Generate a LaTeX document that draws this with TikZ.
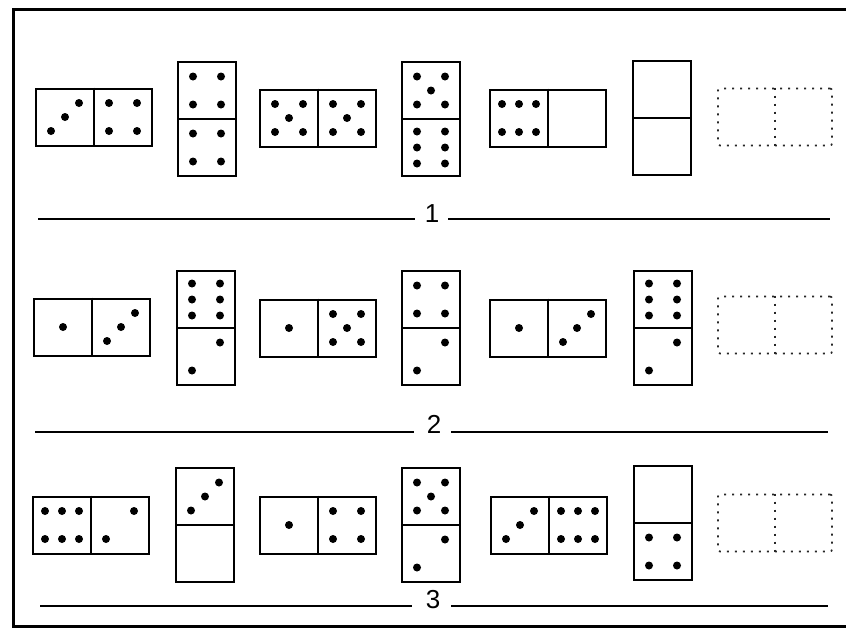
\documentclass[tikz,border=0pt]{standalone}
\usepackage{fontspec}
\newfontfamily\digitfont{Liberation Sans}
\begin{document}
\begin{tikzpicture}[x=1pt,y=-1pt]
\useasboundingbox (0,0) rectangle (846,630);
\tikzset{
  hdom/.style={draw, line width=2pt, minimum width=116pt, minimum height=57pt, inner sep=0pt},
  vdom/.style={draw, line width=2pt, minimum width=58pt, minimum height=114pt, inner sep=0pt},
  ddom/.style={draw=black!85, line width=1.7pt, dash pattern=on 2pt off 6pt, minimum width=114pt, minimum height=57pt, inner sep=0pt, rounded corners=2pt},
  divider/.style={line width=2pt},
  ddivider/.style={draw=black!85, line width=1.7pt, dash pattern=on 2pt off 6pt},
  sepline/.style={line width=1.8pt},
  frameline/.style={line width=3pt},
  lbl/.style={font=\digitfont\fontsize{26}{26}\selectfont, anchor=base, inner sep=0pt}
}
\def\pOne{(0,0)}
\def\pTwo{(14,-14),(-14,14)}
\def\pThree{(14,-14),(0,0),(-14,14)}
\def\pFour{(-14,-14),(14,-14),(-14,14),(14,14)}
\def\pFive{(-14,-14),(14,-14),(0,0),(-14,14),(14,14)}
\def\pSixH{(-17,-14),(0,-14),(17,-14),(-17,14),(0,14),(17,14)}
\def\pSixV{(-14,-16),(-14,0),(-14,16),(14,-16),(14,0),(14,16)}
\newcommand\face[4]{\foreach \p in #4 {\fill[shift={(#1.center)}, shift={(#2,#3)}] \p circle[radius=4];}}
\newcommand\hd[4]{\node[hdom] (#1) at #2 {}; \draw[divider] (#1.north) -- (#1.south);
  \ifx#3\relax\else\face{#1}{-29}{0}{#3}\fi \ifx#4\relax\else\face{#1}{29}{0}{#4}\fi}
\newcommand\vd[4]{\node[vdom] (#1) at #2 {}; \draw[divider] (#1.west) -- (#1.east);
  \ifx#3\relax\else\face{#1}{0}{-28.5}{#3}\fi \ifx#4\relax\else\face{#1}{0}{28.5}{#4}\fi}
\newcommand\dd[2]{\node[ddom] (#1) at #2 {}; \draw[ddivider] (#1.north) -- (#1.south);}

% frame
\coordinate (ftr) at (846,9);
\coordinate (ftl) at (13,9);
\coordinate (fbl) at (13,626);
\coordinate (fbr) at (846,626);
\draw[frameline] (ftr) -- (ftl) -- (fbl) -- (fbr);

% row 1
\hd{r1a}{(94,117)}{\pThree}{\pFour}
\vd{r1b}{(207,119)}{\pFour}{\pFour}
\hd{r1c}{(318,118)}{\pFive}{\pFive}
\vd{r1d}{(431,119)}{\pFive}{\pSixV}
\hd{r1e}{(548,118)}{\pSixH}{\relax}
\vd{r1f}{(662,118)}{\relax}{\relax}
\dd{r1g}{(775,117)}

% row 2
\hd{r2a}{(92,327)}{\pOne}{\pThree}
\vd{r2b}{(206,328)}{\pSixV}{\pTwo}
\hd{r2c}{(318,328)}{\pOne}{\pFive}
\vd{r2d}{(431,328)}{\pFour}{\pTwo}
\hd{r2e}{(548,328)}{\pOne}{\pThree}
\vd{r2f}{(663,328)}{\pSixV}{\pTwo}
\dd{r2g}{(775,325)}

% row 3
\hd{r3a}{(91,525)}{\pSixH}{\pTwo}
\vd{r3b}{(205,525)}{\pThree}{\relax}
\hd{r3c}{(318,525)}{\pOne}{\pFour}
\vd{r3d}{(431,525)}{\pFive}{\pTwo}
\hd{r3e}{(549,525)}{\pThree}{\pSixH}
\vd{r3f}{(663,523)}{\relax}{\pFour}
\dd{r3g}{(775,523)}

% separators
\node[lbl] (l1) at (432,222) {1};
\coordinate (s1a) at (38,219); \coordinate (s1b) at (415,219);
\coordinate (s1c) at (448,219); \coordinate (s1d) at (830,219);
\draw[sepline] (s1a) -- (s1b); \draw[sepline] (s1c) -- (s1d);

\node[lbl] (l2) at (434,433) {2};
\coordinate (s2a) at (35,432); \coordinate (s2b) at (414,432);
\coordinate (s2c) at (451,432); \coordinate (s2d) at (828,432);
\draw[sepline] (s2a) -- (s2b); \draw[sepline] (s2c) -- (s2d);

\node[lbl] (l3) at (433,608) {3};
\coordinate (s3a) at (40,606); \coordinate (s3b) at (412,606);
\coordinate (s3c) at (451,606); \coordinate (s3d) at (828,606);
\draw[sepline] (s3a) -- (s3b); \draw[sepline] (s3c) -- (s3d);
\end{tikzpicture}
\end{document}
